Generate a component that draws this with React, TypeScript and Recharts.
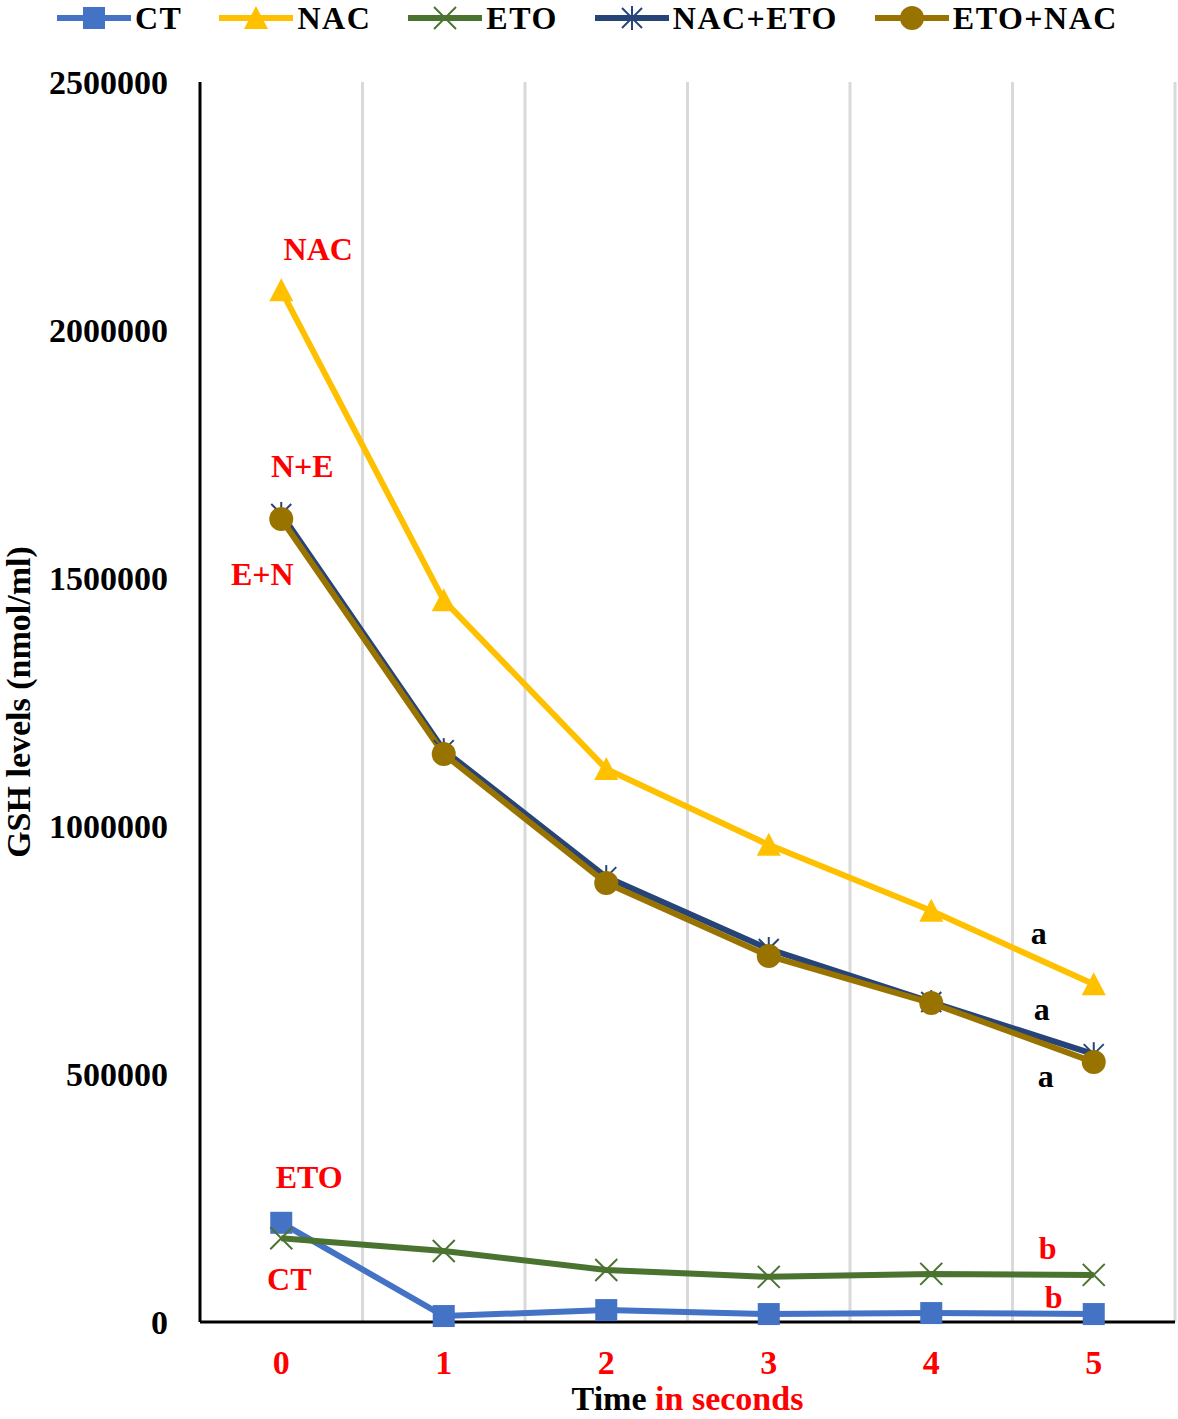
import React from 'react'
import { LineChart, Line, XAxis, YAxis, ReferenceLine, Legend, Label, LabelList } from 'recharts'

// time points (seconds)
const times = [0, 1, 2, 3, 4, 5]
const yTicks = [0, 500000, 1000000, 1500000, 2000000, 2500000]

// GSH levels (nmol/ml)
const ct = [200000, 12000, 24000, 16000, 18000, 16000]
const nac = [2080000, 1455000, 1115000, 962000, 829000, 681000]
const eto = [169000, 143000, 105000, 91000, 97000, 95000]
const nacEto = [1629000, 1153000, 897000, 752000, 645000, 540000]
const etoNac = [1619000, 1145000, 885000, 738000, 643000, 524000]

const seriesNames = ['CT', 'NAC', 'ETO', 'NAC+ETO', 'ETO+NAC']

// text annotations next to the first / last points
const annoTexts: Record<string, { index: number; text: string }[]> = {
  CT: [{ index: 0, text: 'CT' }, { index: 5, text: 'b' }],
  NAC: [{ index: 0, text: 'NAC' }, { index: 5, text: 'a' }],
  ETO: [{ index: 0, text: 'ETO' }, { index: 5, text: 'b' }],
  'NAC+ETO': [{ index: 0, text: 'N+E' }, { index: 5, text: 'a' }],
  'ETO+NAC': [{ index: 0, text: 'E+N' }, { index: 5, text: 'a' }],
}

const data = times.map((t, i) => ({
  t,
  CT: ct[i],
  NAC: nac[i],
  ETO: eto[i],
  'NAC+ETO': nacEto[i],
  'ETO+NAC': etoNac[i],
}))

// category boundaries for the vertical grid
const boundaries = times.map((t) => t + 0.5)

const FONT = '"Liberation Serif", "Times New Roman", serif'
const RED = '#FF0000'

const colors: Record<string, string> = {
  CT: '#4472C4',
  NAC: '#FFC000',
  ETO: '#4A7330',
  'NAC+ETO': '#264478',
  'ETO+NAC': '#997300',
}

// label offsets / colours, keyed by series then point index
const annoStyle: Record<string, Record<number, { dx: number; dy: number; color: string }>> = {
  CT: { 0: { dx: 8, dy: 56, color: RED }, 5: { dx: -40, dy: -17, color: RED } },
  NAC: { 0: { dx: 37, dy: -41, color: RED }, 5: { dx: -55, dy: -51, color: '#000' } },
  ETO: { 0: { dx: 28, dy: -61, color: RED }, 5: { dx: -46, dy: -27, color: RED } },
  'NAC+ETO': { 0: { dx: 21, dy: -48, color: RED }, 5: { dx: -52, dy: -45, color: '#000' } },
  'ETO+NAC': { 0: { dx: -19, dy: 55, color: RED }, 5: { dx: -48, dy: 14, color: '#000' } },
}

const Marker = ({ name, cx, cy }: { name: string; cx: number; cy: number }) => {
  const c = colors[name]
  if (cx == null || cy == null) return null
  switch (name) {
    case 'CT':
      return <rect x={cx - 11} y={cy - 11} width={22} height={22} fill={c} />
    case 'NAC':
      return <polygon points={`${cx},${cy - 12} ${cx + 12},${cy + 11} ${cx - 12},${cy + 11}`} fill={c} />
    case 'ETO':
      return (
        <g stroke={c} strokeWidth={2}>
          <line x1={cx - 11} y1={cy - 11} x2={cx + 11} y2={cy + 11} />
          <line x1={cx - 11} y1={cy + 11} x2={cx + 11} y2={cy - 11} />
        </g>
      )
    case 'NAC+ETO':
      return (
        <g stroke={c} strokeWidth={2}>
          <line x1={cx - 10} y1={cy - 10} x2={cx + 10} y2={cy + 10} />
          <line x1={cx - 10} y1={cy + 10} x2={cx + 10} y2={cy - 10} />
          <line x1={cx} y1={cy - 12} x2={cx} y2={cy + 12} />
        </g>
      )
    default:
      return <circle cx={cx} cy={cy} r={12} fill={c} />
  }
}

const LegendContent = () => (
  <div style={{ display: 'flex', alignItems: 'flex-start', paddingLeft: 57, height: 36 }}>
    {seriesNames.map((n) => (
      <div key={n} style={{ display: 'flex', alignItems: 'flex-start', marginRight: 37 }}>
        <svg width={74} height={30} style={{ display: 'block' }}>
          <line x1={0} y1={15} x2={74} y2={15} stroke={colors[n]} strokeWidth={6} />
          <Marker name={n} cx={37} cy={15} />
        </svg>
        <span
          style={{
            fontFamily: FONT,
            fontWeight: 'bold',
            fontSize: 32,
            lineHeight: '36px',
            letterSpacing: 1.5,
            marginLeft: 4,
            marginTop: -3,
          }}
        >
          {n}
        </span>
      </div>
    ))}
  </div>
)

const makeLabel = (name: string) => (props: any) => {
  const { x, y, index } = props
  const item = annoTexts[name].find((a) => a.index === index)
  const st = annoStyle[name][index]
  if (!item || !st) return null
  return (
    <text
      x={x + st.dx}
      y={y + st.dy}
      textAnchor='middle'
      dominantBaseline='central'
      fill={st.color}
      fontFamily={FONT}
      fontWeight='bold'
      fontSize={32}
    >
      {item.text}
    </text>
  )
}

const XTitle = (props: any) => {
  const { x, y, width } = props.viewBox
  return (
    <text x={x + width / 2} y={y + 88} textAnchor='middle' fontFamily={FONT} fontWeight='bold' fontSize={34}>
      <tspan fill='#000'>Time </tspan>
      <tspan fill={RED}>in seconds</tspan>
    </text>
  )
}

const YTitle = (props: any) => {
  const { y, height } = props.viewBox
  const cy = y + height / 2
  return (
    <text x={30} y={cy} transform={`rotate(-90 30 ${cy})`} textAnchor='middle' fontFamily={FONT} fontWeight='bold' fontSize={34} fill='#000'>
      GSH levels (nmol/ml)
    </text>
  )
}

export default function App() {
  return (
    <div>
      <style>{'body{margin:0;background:#fff}'}</style>
      <LineChart width={1178} height={1419} data={data} margin={{ top: 46, right: 3, bottom: 0, left: 0 }}>
        <Legend verticalAlign='top' content={<LegendContent />} wrapperStyle={{ top: 3, left: 0, width: 1178, height: 36 }} />
        {boundaries.map((b) => (
          <ReferenceLine key={b} x={b} stroke='#D9D9D9' strokeWidth={3} />
        ))}
        <XAxis
          dataKey='t'
          type='number'
          domain={[-0.5, 5.5]}
          ticks={times}
          height={97}
          tickLine={false}
          tickSize={0}
          tickMargin={28}
          axisLine={{ stroke: '#000', strokeWidth: 3 }}
          tick={{ fill: RED, fontFamily: FONT, fontWeight: 'bold', fontSize: 34 }}
        >
          <Label content={<XTitle />} />
        </XAxis>
        <YAxis
          domain={[0, 2500000]}
          ticks={yTicks}
          width={200}
          tickLine={false}
          tickSize={0}
          tickMargin={32}
          axisLine={{ stroke: '#000', strokeWidth: 3 }}
          tick={{ fill: '#000', fontFamily: FONT, fontWeight: 'bold', fontSize: 34 }}
        >
          <Label content={<YTitle />} />
        </YAxis>
        {seriesNames.map((n) => (
          <Line
            key={n}
            dataKey={n}
            type='linear'
            stroke={colors[n]}
            strokeWidth={6}
            isAnimationActive={false}
            dot={(p: any) => <Marker key={`${n}-${p.index}`} name={n} cx={p.cx} cy={p.cy} />}
            activeDot={false}
          >
            <LabelList dataKey={n} content={makeLabel(n)} />
          </Line>
        ))}
      </LineChart>
    </div>
  )
}
